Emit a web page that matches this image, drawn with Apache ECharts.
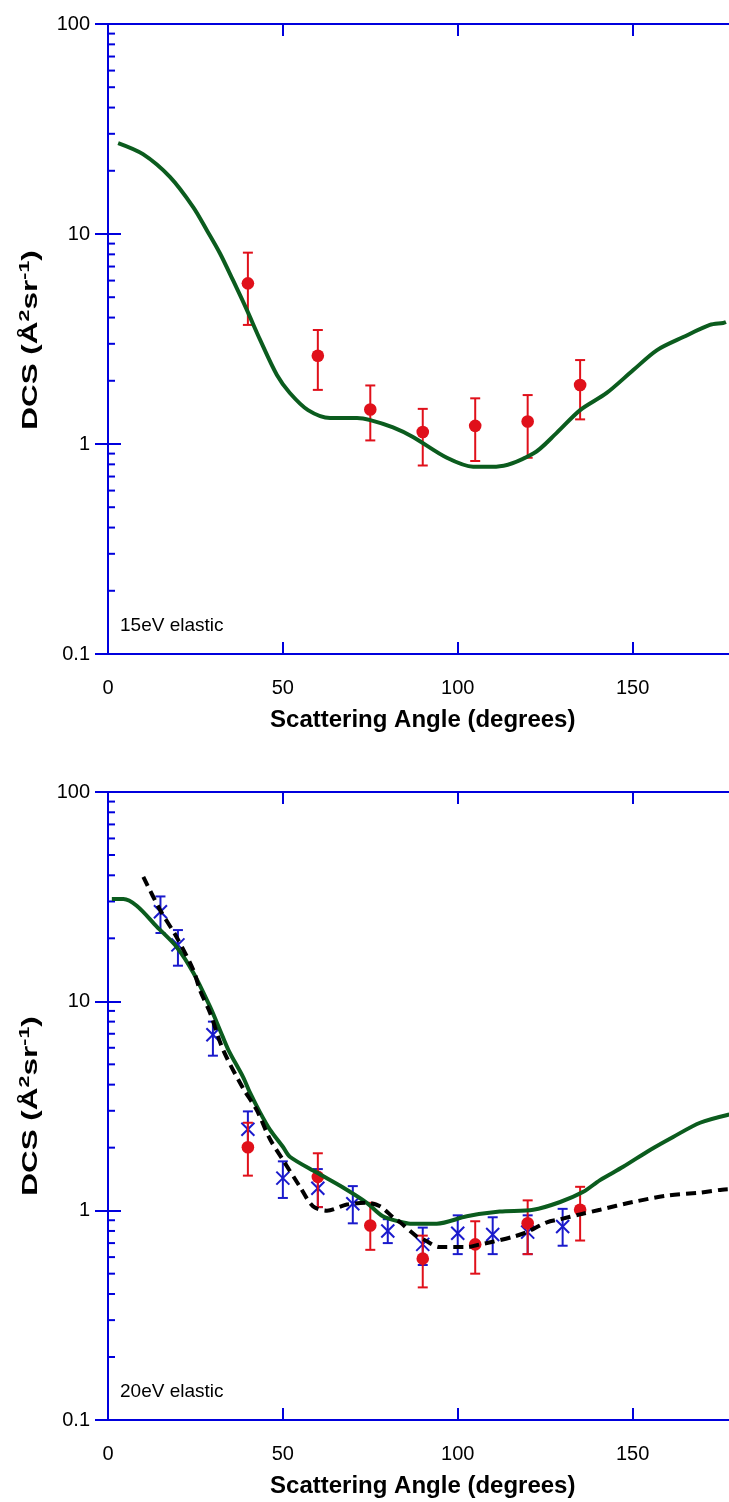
<!DOCTYPE html>
<html>
<head>
<meta charset="utf-8">
<script src="https://cdn.jsdelivr.net/npm/echarts@6/dist/echarts.min.js"></script>
<style>html,body{margin:0;padding:0;background:#fff;}#c{width:729px;height:1502px;}</style>
</head>
<body>
<div id="c"></div>
<script>
// ---------- data ----------
const xTicks = [0, 50, 100, 150];
const yTickLabels = ['0.1', '1', '10', '100'];
const minorTickValues = [0.2,0.3,0.4,0.5,0.6,0.7,0.8,0.9, 2,3,4,5,6,7,8,9, 20,30,40,50,60,70,80,90];

// 15 eV
const theory15Angle = [2.9,10,17.7,24.4,28.3,32,35.7,39.7,43.5,48.3,52,57.2,63.5,71.2,75,81.5,87.2,96.9,104.4,111,121.6,128.3,135,142.6,150.2,157,164.5,172.1,175.9,176.7];
const theory15DCS   = [27.1,24,18.7,13.4,10.4,8.1,6.04,4.35,3.13,2.13,1.75,1.45,1.33,1.33,1.30,1.2,1.08,0.86,0.78,0.78,0.90,1.13,1.45,1.75,2.25,2.8,3.23,3.69,3.77,3.81];
const exp15Angle = [40,60,75,90,105,120,135];
const exp15DCS   = [5.82,2.63,1.46,1.14,1.22,1.28,1.91];
const exp15Hi    = [8.15,3.49,1.90,1.47,1.65,1.71,2.51];
const exp15Lo    = [3.69,1.81,1.04,0.79,0.83,0.86,1.31];

// 20 eV
const theory20Angle = [1.1,4.4,8.2,14,19.6,24.4,29.2,32,34.4,38.6,40.6,43.5,46.3,50,52,59.7,67.2,74,78.6,83.5,86.4,94,102.6,112,121.6,129.3,135.9,140.7,147.3,155,161.6,169.3,177.3,180];
const theory20DCS   = [30.8,30.8,28.6,22.7,18.2,13.7,9.4,7.3,5.87,4.36,3.66,2.94,2.44,2.02,1.81,1.52,1.29,1.09,0.94,0.885,0.867,0.867,0.94,0.99,1.01,1.1,1.23,1.40,1.62,1.95,2.25,2.63,2.87,2.9];
const dashed20Angle = [10.1,14.9,19.6,24.4,26.3,29.2,32.9,38.6,42.5,46.3,50,54.9,58.6,62.6,68.3,74,77.8,81.5,83.5,88.4,90.1,94.9,102.6,106.4,110,115.8,119.8,125.5,129.3,135,140.7,150.1,159.8,169.3,175.6,180];
const dashed20DCS   = [39.3,27.3,20.3,14.1,11.3,8.8,5.87,3.85,3.03,2.2,1.75,1.30,1.05,1.0,1.07,1.09,1.05,0.93,0.88,0.75,0.73,0.67,0.67,0.69,0.71,0.75,0.79,0.88,0.91,0.96,1.01,1.1,1.18,1.22,1.26,1.27];
const red20Angle = [40,60,75,90,105,120,135];
const red20DCS   = [2.01,1.45,0.85,0.59,0.69,0.87,1.01];
const red20Hi    = [2.63,1.88,1.09,0.76,0.89,1.12,1.30];
const red20Lo    = [1.47,1.04,0.65,0.43,0.50,0.62,0.72];
const blue20Angle = [15,20,30,40,50,60,70,80,90,100,110,120,130];
const blue20DCS   = [26.8,18.6,6.92,2.45,1.43,1.28,1.08,0.80,0.69,0.78,0.77,0.79,0.84];
const blue20Hi    = [31.7,21.9,8.0,2.98,1.72,1.58,1.31,0.91,0.83,0.95,0.93,0.95,1.02];
const blue20Lo    = [21.2,14.8,5.5,2.02,1.15,1.04,0.87,0.70,0.55,0.62,0.62,0.62,0.68];

// ---------- styles ----------
const AXIS_BLUE = '#0000dd';
const GREEN = '#0b5c1e';
const RED = '#e0101a';
const BLUE = '#1a1acc';
const FONT = 'Liberation Sans';

const zip = (a, b) => a.map((v, i) => [v, b[i]]);
const zip4 = (a, b, c, d) => a.map((v, i) => [v, b[i], c[i], d[i]]);

function errRender(kind, color) {
  return function (params, api) {
    const x = api.value(0);
    const c = api.coord([x, api.value(1)]);
    const hi = api.coord([x, api.value(2)]);
    const lo = api.coord([x, api.value(3)]);
    const cap = 5;
    const st = { stroke: color, lineWidth: 2 };
    const ch = [
      { type: 'line', shape: { x1: c[0], y1: hi[1], x2: c[0], y2: lo[1] }, style: st },
      { type: 'line', shape: { x1: c[0] - cap, y1: hi[1], x2: c[0] + cap, y2: hi[1] }, style: st },
      { type: 'line', shape: { x1: c[0] - cap, y1: lo[1], x2: c[0] + cap, y2: lo[1] }, style: st }
    ];
    if (kind === 'dot') {
      ch.push({ type: 'circle', shape: { cx: c[0], cy: c[1], r: 6.3 }, style: { fill: color } });
    } else {
      const s = 6.5;
      ch.push({ type: 'line', shape: { x1: c[0] - s, y1: c[1] - s, x2: c[0] + s, y2: c[1] + s }, style: st });
      ch.push({ type: 'line', shape: { x1: c[0] - s, y1: c[1] + s, x2: c[0] + s, y2: c[1] - s }, style: st });
    }
    return { type: 'group', children: ch };
  };
}

function minorRender(params, api) {
  const p = api.coord([0, api.value(0)]);
  return { type: 'line', shape: { x1: p[0], y1: p[1], x2: p[0] + 7, y2: p[1] }, style: { stroke: AXIS_BLUE, lineWidth: 2 } };
}

const yNameText = 'DCS (Å{sup|2}sr{sup|-1})';
function yNameGraphic(cy) {
  return {
    type: 'text', x: 31, y: cy, rotation: Math.PI / 2, scaleX: 1.43, scaleY: 1,
    style: {
      text: yNameText, fontSize: 22, fontWeight: 'bold', fontFamily: FONT, fill: '#000',
      align: 'center', verticalAlign: 'middle',
      rich: { sup: { fontSize: 15, fontWeight: 'bold', fontFamily: FONT, fill: '#000', padding: [0, 0, 12, 0] } }
    }
  };
}

function xAxes(gi) {
  return [
    {
      gridIndex: gi, type: 'value', min: 0, max: 180, interval: 50, position: 'bottom',
      axisLine: { lineStyle: { color: AXIS_BLUE, width: 2 } },
      axisTick: { inside: true, length: 12, lineStyle: { color: AXIS_BLUE, width: 2 } },
      axisLabel: { color: '#000', fontSize: 20, fontFamily: FONT, margin: 24, showMaxLabel: false,
        formatter: v => String(v) },
      splitLine: { show: false },
      name: 'Scattering Angle (degrees)', nameLocation: 'middle', nameGap: 54,
      nameTextStyle: { color: '#000', fontSize: 24, fontWeight: 'bold', fontFamily: FONT }
    },
    {
      gridIndex: gi, type: 'value', min: 0, max: 180, interval: 50, position: 'top',
      axisLine: { lineStyle: { color: AXIS_BLUE, width: 2 } },
      axisTick: { inside: true, length: 12, lineStyle: { color: AXIS_BLUE, width: 2 } },
      axisLabel: { show: false }, splitLine: { show: false }
    }
  ];
}
function yAxes(gi) {
  return [
    {
      gridIndex: gi, type: 'log', logBase: 10, min: 0.1, max: 100, position: 'left',
      axisLine: { lineStyle: { color: AXIS_BLUE, width: 2 } },
      axisTick: { inside: true, length: 13, lineStyle: { color: AXIS_BLUE, width: 2 } },
      axisLabel: { color: '#000', fontSize: 20, fontFamily: FONT, margin: 18,
        formatter: v => v < 0.5 ? yTickLabels[0] : (v < 5 ? yTickLabels[1] : (v < 50 ? yTickLabels[2] : yTickLabels[3])) },
      splitLine: { show: false }
    },
    {
      gridIndex: gi, type: 'log', logBase: 10, min: 0.1, max: 100, position: 'right',
      axisLine: { lineStyle: { color: AXIS_BLUE, width: 2 } },
      axisTick: { inside: true, length: 13, lineStyle: { color: AXIS_BLUE, width: 2 } },
      axisLabel: { show: false }, splitLine: { show: false }
    }
  ];
}

const option = {
  animation: false,
  backgroundColor: '#fff',
  grid: [
    { left: 108, top: 24, width: 629.5, height: 630, containLabel: false, outerBoundsMode: 'none' },
    { left: 108, top: 792, width: 629.5, height: 628, containLabel: false, outerBoundsMode: 'none' }
  ],
  xAxis: [...xAxes(0), ...xAxes(1)],
  yAxis: [...yAxes(0), ...yAxes(1)],
  graphic: [
    { type: 'text', left: 120, top: 616, style: { text: '15eV elastic', fontSize: 19, fontFamily: FONT, fill: '#000' } },
    { type: 'text', left: 120, top: 1382, style: { text: '20eV elastic', fontSize: 19, fontFamily: FONT, fill: '#000' } },
    yNameGraphic(340),
    yNameGraphic(1106)
  ],
  series: [
    { type: 'custom', xAxisIndex: 0, yAxisIndex: 0, data: minorTickValues.map(v => [v]), renderItem: minorRender, encode: { y: 0 }, silent: true },
    { type: 'custom', xAxisIndex: 2, yAxisIndex: 2, data: minorTickValues.map(v => [v]), renderItem: minorRender, encode: { y: 0 }, silent: true },

    { type: 'line', xAxisIndex: 0, yAxisIndex: 0, data: zip(theory15Angle, theory15DCS), showSymbol: false, smooth: 0.3,
      lineStyle: { color: GREEN, width: 4 } },
    { type: 'custom', xAxisIndex: 0, yAxisIndex: 0, data: zip4(exp15Angle, exp15DCS, exp15Hi, exp15Lo),
      renderItem: errRender('dot', RED), encode: { x: 0, y: [1, 2, 3] } },

    { type: 'line', xAxisIndex: 2, yAxisIndex: 2, data: zip(theory20Angle, theory20DCS), showSymbol: false, smooth: 0.3,
      lineStyle: { color: GREEN, width: 4 } },
    { type: 'line', xAxisIndex: 2, yAxisIndex: 2, data: zip(dashed20Angle, dashed20DCS), showSymbol: false, smooth: 0.3,
      lineStyle: { color: '#000', width: 4, type: [10, 6] } },
    { type: 'custom', xAxisIndex: 2, yAxisIndex: 2, data: zip4(blue20Angle, blue20DCS, blue20Hi, blue20Lo),
      renderItem: errRender('cross', BLUE), encode: { x: 0, y: [1, 2, 3] } },
    { type: 'custom', xAxisIndex: 2, yAxisIndex: 2, data: zip4(red20Angle, red20DCS, red20Hi, red20Lo),
      renderItem: errRender('dot', RED), encode: { x: 0, y: [1, 2, 3] } }
  ]
};

const chart = echarts.init(document.getElementById('c'), null, { renderer: 'canvas' });
chart.setOption(option);
</script>
</body>
</html>
